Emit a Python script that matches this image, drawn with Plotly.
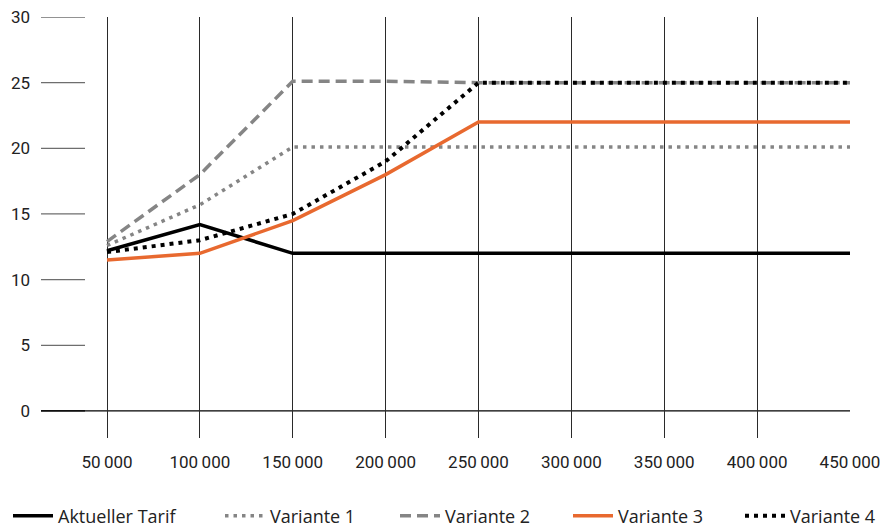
import plotly.graph_objects as go

# Income levels (x) and resulting rates (y) per tariff
incomes = [50000, 100000, 150000, 200000, 250000, 300000, 350000, 400000, 450000]
income_labels = ["50\u2009000", "100\u2009000", "150\u2009000", "200\u2009000", "250\u2009000",
                 "300\u2009000", "350\u2009000", "400\u2009000", "450\u2009000"]

aktueller_tarif = [12.2, 14.2, 12.0, 12.0, 12.0, 12.0, 12.0, 12.0, 12.0]
variante_1 = [12.6, 15.7, 20.1, 20.1, 20.1, 20.1, 20.1, 20.1, 20.1]
variante_2 = [12.9, 18.0, 25.1, 25.1, 25.0, 25.0, 25.0, 25.0, 25.0]
variante_3 = [11.5, 12.0, 14.5, 18.0, 22.0, 22.0, 22.0, 22.0, 22.0]
variante_4 = [12.1, 13.0, 15.0, 19.0, 25.0, 25.0, 25.0, 25.0, 25.0]

y_ticks = [0, 5, 10, 15, 20, 25, 30]

GRAY = "#858585"
ORANGE = "#E8692F"
FONT = "Roboto"
LEGEND_FONT = "Open Sans"
TEXT = "#222222"

series = [
    ("Aktueller Tarif", aktueller_tarif, dict(color="#000000", width=3.5)),
    ("Variante 1", variante_1, dict(color=GRAY, width=3.5, dash="3.5px,5px")),
    ("Variante 2", variante_2, dict(color=GRAY, width=3.5, dash="11px,6px")),
    ("Variante 3", variante_3, dict(color=ORANGE, width=3.5)),
    ("Variante 4", variante_4, dict(color="#000000", width=4, dash="4px,5px")),
]

# each series gets its own one-entry legend along the bottom row
legend_left_px = [8, 220, 395, 568, 740]
legend_ids = ["legend", "legend2", "legend3", "legend4", "legend5"]

fig = go.Figure()
for (name, values, line), lid in zip(series, legend_ids):
    fig.add_trace(go.Scatter(x=incomes, y=values, mode="lines", name=name, line=line,
                             legend=lid))

legend_layout = {}
for lid, left in zip(legend_ids, legend_left_px):
    legend_layout[lid] = dict(
        orientation="h", xref="container", yref="container",
        x=left / 895, y=(531 - 516) / 531, xanchor="left", yanchor="middle",
        font=dict(family=LEGEND_FONT, size=18, color=TEXT),
        bgcolor="rgba(0,0,0,0)", itemwidth=40,
    )

# short horizontal ticks at the left of the plot for each y value
shapes = []
for v in y_ticks:
    shapes.append(dict(type="line", xref="paper", yref="y", x0=0, x1=0.0544, y0=v, y1=v,
                       line=dict(color="#000000" if v == 0 else "#6e6e6e", width=1.3)))
# baseline at zero across the whole chart
shapes.append(dict(type="line", xref="paper", yref="y", x0=0, x1=1, y0=0, y1=0,
                   line=dict(color="#000000", width=1.3), layer="below"))

fig.update_layout(
    width=895, height=531,
    margin=dict(l=41, r=45, t=17, b=93),
    paper_bgcolor="white", plot_bgcolor="white",
    font=dict(family=FONT, size=17, color=TEXT),
    shapes=shapes,
    showlegend=True,
    xaxis=dict(range=[14468, 450000], tickvals=incomes, ticktext=income_labels,
               showgrid=True, gridcolor="#2a2a2a", gridwidth=1, zeroline=False,
               showline=False, ticks="", ticklabelstandoff=12, automargin=False,
               tickfont=dict(family=FONT, size=17, color=TEXT)),
    yaxis=dict(range=[-2.06, 30], tickvals=y_ticks, showgrid=False, zeroline=False,
               showline=False, ticks="", ticklabelstandoff=10, automargin=False,
               tickfont=dict(family=FONT, size=17, color=TEXT)),
    **legend_layout,
)

fig.write_html("out.html")
